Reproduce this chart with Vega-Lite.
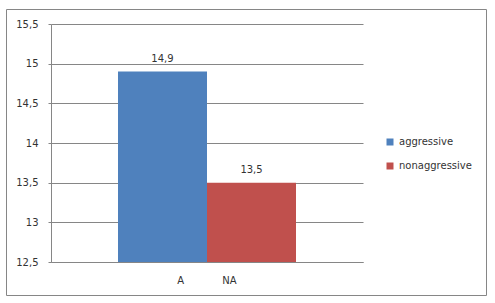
{
  "$schema": "https://vega.github.io/schema/vega-lite/v6.json",
  "width": 480,
  "height": 286,
  "autosize": {"type": "none"},
  "padding": {"left": 6, "top": 9, "right": 9, "bottom": 8},
  "background": "white",
  "data": {
    "values": [
      {"category": "A\u00a0\u00a0\u00a0\u00a0\u00a0\u00a0\u00a0\u00a0\u00a0\u00a0\u00a0\u00a0NA", "series": "aggressive", "value": 14.9},
      {"category": "A\u00a0\u00a0\u00a0\u00a0\u00a0\u00a0\u00a0\u00a0\u00a0\u00a0\u00a0\u00a0NA", "series": "nonaggressive", "value": 13.5}
    ]
  },
  "encoding": {
    "x": {
      "field": "category",
      "type": "nominal",
      "scale": {"range": [45, 357], "paddingOuter": 0.3764, "paddingInner": 0},
      "axis": {
        "title": null,
        "labelAngle": 0,
        "ticks": false,
        "domainColor": "#868686",
        "offset": -33,
        "labelPadding": 13,
        "labelFont": "DejaVu Sans",
        "labelFontSize": 10,
        "labelColor": "#333333"
      }
    },
    "xOffset": {"field": "series", "type": "nominal", "scale": {"paddingInner": 0, "paddingOuter": 0}},
    "y": {
      "field": "value",
      "type": "quantitative",
      "scale": {"domain": [12.5, 15.5], "range": [253, 15], "nice": false, "zero": false},
      "axis": {
        "title": null,
        "values": [12.5, 13, 13.5, 14, 14.5, 15, 15.5],
        "format": ".1~f",
        "offset": -45,
        "tickSize": 3,
        "tickColor": "#868686",
        "domainColor": "#868686",
        "gridColor": "#868686",
        "grid": true,
        "labelPadding": 10,
        "labelFont": "DejaVu Sans",
        "labelFontSize": 10,
        "labelColor": "#333333"
      }
    }
  },
  "layer": [
    {
      "mark": {"type": "bar"},
      "encoding": {
        "y2": {"datum": 12.5},
        "color": {
          "field": "series",
          "type": "nominal",
          "scale": {"domain": ["aggressive", "nonaggressive"], "range": ["#4F81BD", "#C0504D"]},
          "legend": {
            "orient": "none",
            "legendX": 379,
            "legendY": 128,
            "title": null,
            "symbolType": "square",
            "symbolSize": 49,
            "symbolStrokeWidth": 0,
            "labelFont": "DejaVu Sans",
            "labelFontSize": 10,
            "labelColor": "#333333",
            "rowPadding": 14,
            "labelOffset": 4,
            "padding": 0
          }
        }
      }
    },
    {
      "mark": {"type": "text", "baseline": "alphabetic", "dy": -10, "font": "DejaVu Sans", "fontSize": 10, "color": "#333333"},
      "encoding": {
        "text": {"field": "value", "type": "quantitative", "format": ".1f"}
      }
    }
  ],
  "config": {
    "locale": {"number": {"decimal": ",", "thousands": ".", "grouping": [3], "currency": ["", " €"]}},
    "view": {"stroke": "#868686", "strokeWidth": 1}
  }
}
